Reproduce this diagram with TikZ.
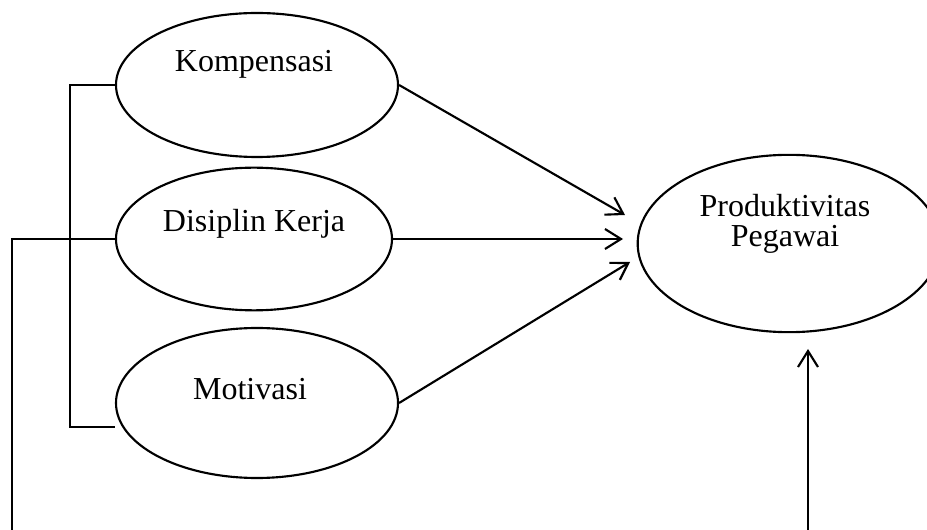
\documentclass[tikz,border=0pt]{standalone}
\usepackage{fontspec}
\setmainfont{Liberation Serif}
\usetikzlibrary{arrows.meta,shapes.geometric}
\tikzset{
	var/.style={draw, ellipse, line width=1.6pt, inner sep=0pt},
	lbl/.style={font=\fontsize{24}{22.5}\selectfont, inner sep=0pt, align=center},
	flow/.style={-{Straight Barb[length=12pt, width=15pt]}, line width=1.6pt},
	link/.style={line width=1.6pt}
}

\begin{document}
\begin{tikzpicture}[x=0.75pt, y=-0.75pt]
	\useasboundingbox (0,0) rectangle (927,530);
	\clip (0,0) rectangle (927,530);
	\node[var, minimum width=211.5pt, minimum height=108pt] (komp) at (257,85) {};
	\node[var, minimum width=207pt, minimum height=107pt] (disip) at (254,239) {};
	\node[var, minimum width=211.5pt, minimum height=112.5pt] (motiv) at (257,403) {};
	\node[var, minimum width=227pt, minimum height=133pt] (prod) at (789,243.5) {};
	\node[lbl, anchor=base] (kompT) at (254,72) {Kompensasi};
	\node[lbl, anchor=base] (disipT) at (254,232) {Disiplin Kerja};
	\node[lbl, anchor=base] (motivT) at (250,400) {Motivasi};
	\node[lbl, anchor=base] (prodT) at (785,247) {Produktivitas\\Pegawai};
	\coordinate (in1) at (625,215);
	\coordinate (in2) at (623,239);
	\coordinate (in3) at (630,262);
	\coordinate (in4) at (808,349);
	\coordinate (brk) at (70,427);
	\coordinate (brkEnd) at (115,427);
	\coordinate (low) at (12,560);
	\draw[flow] (komp.east) -- (in1);
	\draw[flow] (disip.east) -- (in2);
	\draw[flow] (motiv.east) -- (in3);
	\draw[link] (komp.west) -| (brk) -- (brkEnd);
	\draw[flow] (disip.west) -| (low) -| (in4);
\end{tikzpicture}
\end{document}
